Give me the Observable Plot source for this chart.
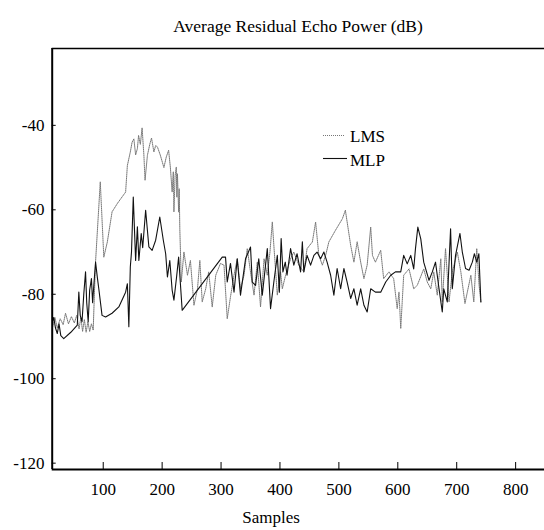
<!DOCTYPE html>
<html><head><meta charset="utf-8">
<script src="https://cdn.jsdelivr.net/npm/d3@7"></script>
<script src="https://cdn.jsdelivr.net/npm/@observablehq/plot@0.6"></script>
<style>
html,body{margin:0;padding:0;background:#fff;}
#wrap{position:relative;width:544px;height:530px;overflow:hidden;font-family:"Liberation Serif","Times New Roman",serif;color:#000;background:#fff;}
#title{position:absolute;left:0;width:596px;top:14px;line-height:24px;text-align:center;font-size:17.5px;white-space:nowrap;}
#xlabel{position:absolute;left:0;width:542px;top:506px;line-height:24px;text-align:center;font-size:17px;}
#chart{position:absolute;left:0;top:44px;}
#legend{position:absolute;left:0;top:0;width:544px;height:530px;pointer-events:none;}
.lg{position:absolute;left:350px;line-height:24px;font-size:17px;}
</style>
</head><body>
<div id="wrap">
  <div id="title">Average Residual Echo Power (dB)</div>
  <div id="chart"></div>
  <svg id="legend" width="544" height="530">
    <line x1="323" y1="135.5" x2="345" y2="135.5" stroke="#777" stroke-width="1" stroke-dasharray="1,1"/>
    <line x1="323" y1="158.5" x2="347" y2="158.5" stroke="#111" stroke-width="1.1"/>
  </svg>
  <div class="lg" style="top:125px">LMS</div>
  <div class="lg" style="top:149px">MLP</div>
  <div id="xlabel">Samples</div>
</div>
<script>
// Tick values
const xTicks = [100, 200, 300, 400, 500, 600, 700, 800];
const yTicks = [-120, -100, -80, -60, -40];
const xDomain = [13.4, 849];
const yDomain = [-121.5, -21.8];

// LMS series (sample index, dB)
const lmsSamples = [14,18,22,27,32,36,41,46,51,55,59,62,65,68,71,74,77,80,83,85,87,95,101,107,115,124,138,141,146,149,152,155,158,160,163,166,169,171,175,179,182,186,189,192,197,203,207,211,214,217,219,220,222,224,225,226,228,229,230,232.5,237,243,248,254,260,264,268,274,279,285,291,299,305,310.5,316,322,327.5,333,339,344.5,350,356,361.5,367,373,378.5,383,387,390,395.5,401,404,409.5,418,423.5,432,440.5,446,455,460.5,466,472,477.5,483,494,506,511,520,525.5,531,537,542.5,548,554,557,562,571,576,585,593,599,602,605,607.5,610,619,627,633,644,650,656,661,667,673,675.5,681,687,692.5,701,707,714,718,724,729,734,738,741];
const lmsDb = [-87.8,-85.5,-88,-85.8,-87.2,-84.5,-87,-85.3,-86.8,-85,-88.2,-85.5,-88.8,-86,-89,-86.5,-88.8,-87,-88.5,-80,-72.3,-53.4,-71.2,-67.6,-60.5,-58.5,-55.8,-49.5,-46.3,-44,-43.2,-47,-45.5,-42.4,-44.5,-40.6,-47,-53,-47.1,-44.5,-43,-46.3,-44.8,-45.1,-47.1,-50,-47.5,-45.9,-50,-55.8,-51,-60.5,-52,-49.9,-57,-51.5,-60.5,-55,-64.5,-77.1,-70,-75.5,-72,-82.6,-78.7,-72,-81.8,-78.7,-74.7,-83,-75.5,-72.7,-73.1,-85.8,-80.6,-75.5,-71.6,-78.7,-75.5,-69.2,-74.7,-80.2,-72.4,-83,-71.6,-75.5,-70,-62.9,-69.2,-80.2,-74.7,-78.7,-75.5,-71.6,-70,-73.1,-74.7,-69.2,-67.6,-62.9,-70.8,-73.1,-70.8,-67.6,-64.9,-62.1,-60.1,-68.4,-72.4,-67.6,-72.4,-76.3,-73.1,-64.1,-70.8,-72.4,-69.6,-76.3,-74.7,-76.3,-83.4,-79.5,-88.1,-81.8,-75.5,-74,-78.7,-77.9,-74,-77.1,-78.7,-74.7,-80.2,-71.6,-81.8,-69.2,-81.8,-74.7,-70,-74.7,-82.2,-79.5,-75.5,-81.8,-69.2,-77.9,-81.8];

// MLP series (sample index, dB)
const mlpSamples = [14,16,19,22,25,28,33,45,56,58.6,61,64,67,70,72,74.5,77,80,82,84,87,90,92.5,98,104,115,126.5,138,141,143.5,146,148,151,155,158,160.5,164.5,167,172,177.5,183,189,196,202,206,209,213,217,220,224.5,228,231,234,302,307.6,310.5,316,322,327.5,333,341.6,350,353,358.6,364,370,378.5,384,389.6,395.5,399,402,405,409,412,418,423.5,429,435,438,440.5,446,452,457.6,463,469,474.5,480,486,491.5,497,503,508.5,514,520,525.5,531,537,542.5,548,554,562,571,579.5,588,596,605,610,616,622,627,630,634,639,644,653,658.6,664,670,675.5,678,684,689.6,692.5,698,705.5,709.5,715,721,726.5,730,734,737.6,741];
const mlpDb = [-86.5,-85.5,-88,-89.3,-87,-89.8,-90.5,-89,-87.3,-79.5,-85,-86.5,-80,-74.7,-82,-86.5,-79,-76.3,-82,-78,-72.4,-76,-78.7,-85,-85.4,-84.5,-83,-79.5,-77.5,-87.7,-73.5,-70,-57,-72,-64,-72,-65.6,-69,-60.1,-68.8,-69.6,-67.2,-61.7,-67.2,-70.4,-75.9,-72,-79,-81.4,-75.9,-71.2,-77.5,-83.8,-71.2,-71.2,-77.1,-72.7,-79.5,-71.6,-80.2,-71.6,-68.8,-77.1,-77.9,-71.6,-80.2,-69.2,-83.4,-77.1,-70.8,-79.5,-66.8,-74.7,-72.4,-75.5,-69.2,-73.1,-70.4,-74.7,-67.6,-74.7,-70.8,-73.1,-70.8,-70,-71.6,-70,-72.4,-75.5,-80.2,-73.9,-78.7,-73.9,-77.1,-81,-78.7,-82.6,-78.7,-82.6,-84.2,-78.7,-79.5,-79.5,-77.1,-75.5,-74.7,-74.7,-70.8,-72.8,-70.8,-74,-69.2,-64.1,-66.9,-72.4,-76.7,-74.7,-72.4,-78.7,-84.2,-78.7,-81.8,-64.5,-78.7,-70.8,-65.6,-70,-73.9,-74.3,-72.4,-70.4,-72.4,-70.4,-81.8];

const lms = lmsSamples.map((s, i) => ({s, db: lmsDb[i]}));
const mlp = mlpSamples.map((s, i) => ({s, db: mlpDb[i]}));

const chart = Plot.plot({
  width: 544,
  height: 461,
  marginTop: 4,
  marginBottom: 36,
  marginLeft: 51.7,
  marginRight: 0,
  style: {fontFamily: "'Liberation Serif','Times New Roman',serif", fontSize: "17px", color: "#000", background: "transparent", overflow: "visible"},
  x: {domain: xDomain, ticks: xTicks, tickSize: -7, tickPadding: 20, tickFormat: d => `${d}`, label: null},
  y: {domain: yDomain, ticks: yTicks, tickSize: -4, tickPadding: 11.7, tickFormat: d => `${d}`, label: null},
  marks: [
    Plot.ruleY([yDomain[1]], {stroke: "#000", strokeWidth: 1.5}),
    Plot.line(lms, {x: "s", y: "db", stroke: "#777", strokeWidth: 1, strokeDasharray: "1,1"}),
    Plot.line(mlp, {x: "s", y: "db", stroke: "#111", strokeWidth: 1.1}),
    Plot.ruleX([xDomain[0]], {stroke: "#000", strokeWidth: 2}),
    Plot.ruleY([yDomain[0]], {stroke: "#000", strokeWidth: 2})
  ]
});
document.getElementById("chart").appendChild(chart);
</script>
</body></html>
